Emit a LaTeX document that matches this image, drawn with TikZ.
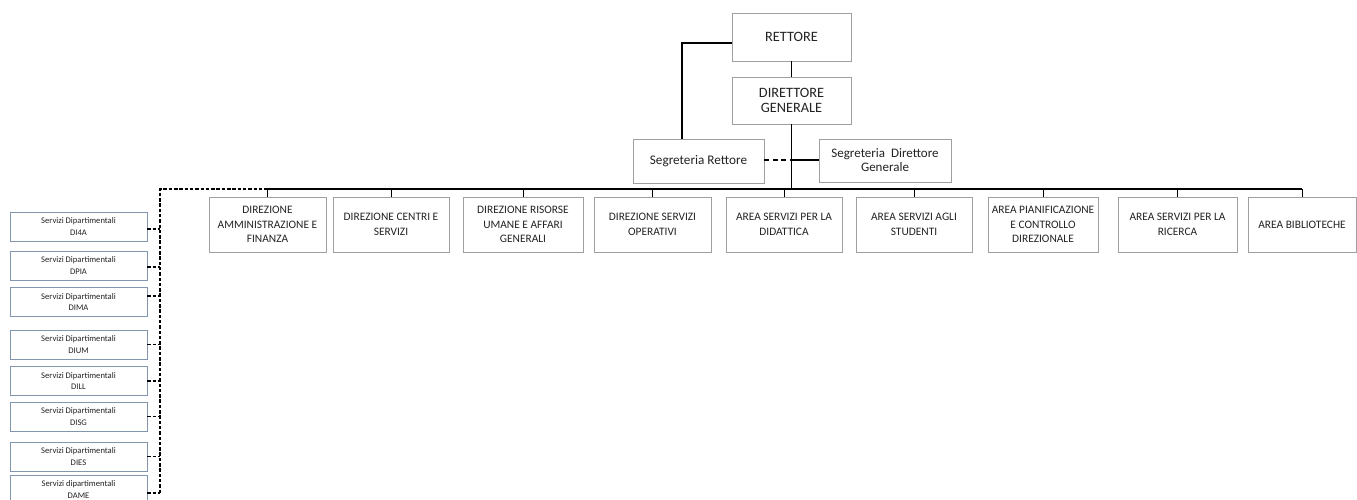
\documentclass[tikz,border=0pt]{standalone}
\usepackage{fontspec}
\setmainfont{Carlito}
\definecolor{boxgray}{RGB}{160,160,160}
\definecolor{depblue}{RGB}{130,150,175}
\definecolor{txt}{RGB}{35,35,35}
\begin{document}
\begin{tikzpicture}[x=1pt,y=-1pt,
  box/.style={draw=boxgray, line width=0.9pt, align=center, inner sep=1pt, text=txt,
    font=\fontsize{11.4}{14.5}\selectfont, minimum height=55pt},
  topbox/.style={draw=boxgray, line width=0.9pt, align=center, inner sep=1pt, text=txt},
  dep/.style={draw=depblue, line width=0.7pt, align=center, inner sep=1pt, text=txt,
    font=\fontsize{8.6}{11.5}\selectfont, minimum width=137pt, minimum height=29pt},
  link/.style={line width=1.3pt},
  bus/.style={line width=1.7pt},
  tick/.style={line width=0.8pt},
  dline/.style={line width=1.3pt, dash pattern=on 3.5pt off 1.8pt}]
\useasboundingbox[fill=white] (0,0) rectangle (1357,499);

% top
\node[topbox, minimum width=119pt, minimum height=48pt, font=\fontsize{14.3}{16}\selectfont] (ret) at (791.5,37) {RETTORE};
\node[topbox, minimum width=119pt, minimum height=47pt, font=\fontsize{14.3}{15.8}\selectfont] (dg) at (791.5,100.5) {DIRETTORE\\GENERALE};
\node[topbox, minimum width=131pt, minimum height=44pt, font=\fontsize{13.2}{14}\selectfont] (segr) at (698.5,161) {Segreteria Rettore};
\node[topbox, minimum width=132pt, minimum height=43pt, font=\fontsize{13}{14}\selectfont] (segdg) at (885,160.5) {Segreteria\ \ Direttore\\Generale};

% directions
\node[box, minimum width=117pt] (b1) at (267.5,224.5) {DIREZIONE\\AMMINISTRAZIONE E\\FINANZA};
\node[box, minimum width=116pt] (b2) at (391,224.5) {DIREZIONE CENTRI E\\SERVIZI};
\node[box, minimum width=120pt] (b3) at (523,224.5) {DIREZIONE RISORSE\\UMANE E AFFARI\\GENERALI};
\node[box, minimum width=117pt] (b4) at (652.5,224.5) {DIREZIONE SERVIZI\\OPERATIVI};
\node[box, minimum width=116pt] (b5) at (784,224.5) {AREA SERVIZI PER LA\\DIDATTICA};
\node[box, minimum width=116pt] (b6) at (914,224.5) {AREA SERVIZI AGLI\\STUDENTI};
\node[box, minimum width=110pt] (b7) at (1043,224.5) {AREA PIANIFICAZIONE\\E CONTROLLO\\DIREZIONALE};
\node[box, minimum width=119pt] (b8) at (1177.5,224.5) {AREA SERVIZI PER LA\\RICERCA};
\node[box, minimum width=108pt] (b9) at (1302,224.5) {AREA BIBLIOTECHE};

% departmental services
\node[dep] (d1) at (78.5,226.5) {Servizi Dipartimentali\\DI4A};
\node[dep] (d2) at (78.5,265.5) {Servizi Dipartimentali\\DPIA};
\node[dep] (d3) at (78.5,302) {Servizi Dipartimentali\\DIMA};
\node[dep] (d4) at (78.5,344.5) {Servizi Dipartimentali\\DIUM};
\node[dep] (d5) at (78.5,381) {Servizi Dipartimentali\\DILL};
\node[dep] (d6) at (78.5,416.5) {Servizi Dipartimentali\\DISG};
\node[dep] (d7) at (78.5,456.5) {Servizi Dipartimentali\\DIES};
\node[dep] (d8) at (78.5,489.5) {Servizi dipartimentali\\DAME};

% coordinates
\coordinate (busL) at (267.5,189);
\coordinate (busR) at (1302,189);
\coordinate (busM) at (791.5,189);
\coordinate (spT) at (160,189);
\coordinate (spB) at (160,493);
\coordinate (segJ) at (791.5,160);

% connectors
\draw[link] (ret.west |- 0,43) -| (segr.north -| 682,0);
\draw[link] (ret.south) -- (dg.north);
\draw[link] (dg.south) -- (busM);
\draw[link] (segJ) -- (segdg.west |- segJ);
\draw[link, dash pattern=on 5pt off 3.5pt] (segr.east |- segJ) -- (segJ);
\draw[bus] (busL) -- (busR);
\foreach \b in {b1,b2,b3,b4,b5,b6,b7,b8,b9}
  \draw[tick] (\b.north) -- (\b.north |- busL);
\draw[dline] (spB) -- (spT) -- (busL);
\foreach \d/\s in {d1/-2.5,d2/-1.5,d3/6,d4/0,d5/0,d6/0,d7/0,d8/-3.5}
  \draw[dline] ([yshift=\s pt]\d.east) -- ([yshift=\s pt]\d.east -| spT);
\end{tikzpicture}
\end{document}
